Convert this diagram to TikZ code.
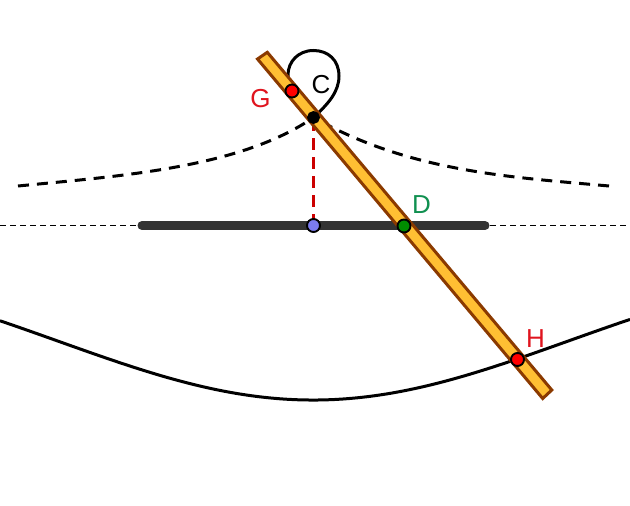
\documentclass[tikz,border=0pt]{standalone}
\usepackage{fontspec}
\setmainfont{Liberation Sans}
\definecolor{barfill}{HTML}{FFBF33}
\definecolor{baredge}{HTML}{8B3A00}
\definecolor{lblred}{HTML}{E0141E}
\definecolor{lblgreen}{HTML}{109050}
\definecolor{ptblue}{HTML}{7C7CF0}
\tikzset{
  pt/.style={circle,draw=black,line width=1.9pt,minimum size=13pt,inner sep=0pt},
  lbl/.style={inner sep=0pt,font=\fontsize{26}{26}\selectfont},
  curve/.style={line width=3pt,black},
  wing/.style={line width=3pt,black,dash pattern=on 11pt off 8pt},
}
\begin{document}
\begin{tikzpicture}[x=1pt,y=-1pt]
\useasboundingbox (0,0) rectangle (630,506);
\fill[white] (0,0) rectangle (630,506);
\coordinate (axisL) at (0,225);
\coordinate (axisR) at (630,225);
\coordinate (barL) at (142,225.5);
\coordinate (barR) at (485,225.5);
\coordinate (wingL) at (18,186);
\coordinate (wingR) at (609,186);
\coordinate (a) at (257.5,59);
\coordinate (b) at (267.3,52.3);
\coordinate (c) at (551.8,390);
\coordinate (d) at (542.7,398.5);
\coordinate (C) at (313.5,117.5);
\coordinate (G) at (292,91);
\coordinate (D) at (404,226);
\coordinate (H) at (517.5,359.5);
\coordinate (F) at (313.5,225.5);
\draw[line width=0.9pt,dash pattern=on 6pt off 4pt] (axisL) -- (axisR);
\draw[line width=9pt,line cap=round,black!80] (barL) -- (barR);
\draw[curve,domain=0:630,samples=80,smooth] plot (\x,{400-150*(1-exp(-((\x-313)/361.1)*((\x-313)/361.1)))});
\draw[curve] (C) .. controls (328,104) and (339,92) .. (339,76)
  .. controls (339,60) and (328,50.5) .. (313.5,50.5)
  .. controls (298,50.5) and (288,62) .. (288,75)
  .. controls (288,81) and (289.5,86) .. (G);
\draw[wing] (wingL) .. controls (120,176) and (240,168) .. (C);
\draw[wing] (wingR) .. controls (510,177) and (410,172) .. (C);
\draw[line width=3pt,dash pattern=on 12pt off 7pt,red!80!black] (F) -- (C);
\draw[line width=3pt,draw=baredge,fill=barfill] (a) -- (b) -- (c) -- (d) -- cycle;
\node[pt,fill=black,minimum size=11pt] (nC) at (C) {};
\node[pt,fill=red] (nG) at (G) {};
\node[pt,fill=green!55!black] (nD) at (D) {};
\node[pt,fill=red] (nH) at (H) {};
\node[pt,fill=ptblue] (nF) at (F) {};
\node[lbl,text=black] (lC) at (321,85) {C};
\node[lbl,text=lblred] (lG) at (260.5,98.5) {G};
\node[lbl,text=lblgreen] (lD) at (421.5,204.5) {D};
\node[lbl,text=lblred] (lH) at (535.5,339) {H};
\end{tikzpicture}
\end{document}
